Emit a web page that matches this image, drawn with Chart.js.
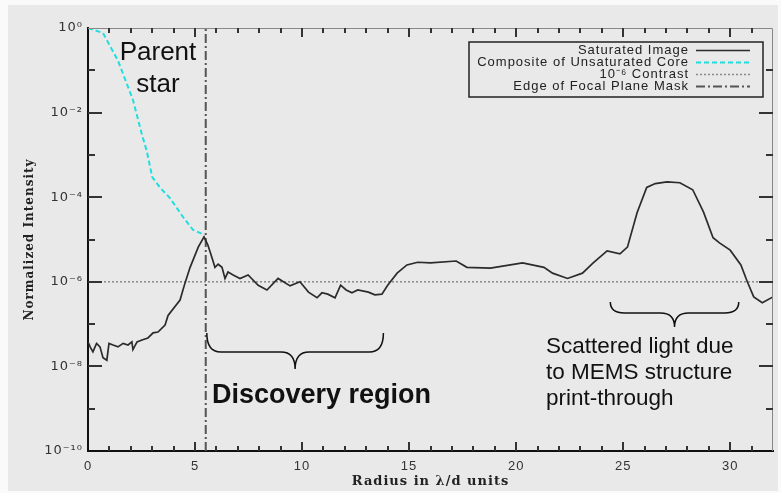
<!DOCTYPE html>
<html>
<head>
<meta charset="utf-8">
<script src="https://cdn.jsdelivr.net/npm/chart.js@4/dist/chart.umd.min.js"></script>
<style>
  html, body { margin: 0; padding: 0; background: #fafafa; }
  #wrap { width: 781px; height: 493px; }
</style>
</head>
<body>
<div id="wrap"><canvas id="chart" width="781" height="493"></canvas></div>
<script>
// Saturated image profile (radius in lambda/d, normalized intensity)
const satRadius = [0, 0.1, 0.23, 0.4, 0.56, 0.7, 0.88, 0.98, 1.17, 1.4, 1.64, 1.87, 2.05, 2.1, 2.29, 2.52, 2.8, 3.04, 3.27, 3.6, 3.74,
  4.3, 4.53, 4.77, 5.15, 5.42, 5.6, 5.8, 5.93, 6.08, 6.26, 6.4, 6.54, 6.78, 7.1, 7.48, 7.95, 8.36, 8.88, 9.44, 9.9,
  10.3, 10.7, 10.93, 11.2, 11.54, 11.8, 12.06, 12.33, 12.6, 13.1, 13.4, 13.73, 14.0, 14.44, 14.9, 15.4, 16.0, 17.2,
  17.7, 18.8, 20.3, 21.3, 21.7, 22.4, 23.1, 23.6, 24.25, 24.85, 25.2, 25.65, 26.1, 26.5, 27.05, 27.65, 28.25, 28.75,
  29.2, 29.5, 30.0, 30.5, 30.8, 31.1, 31.5, 32.0];
const satIntensity = [3.8e-8, 2.9e-8, 2.2e-8, 3.5e-8, 2.9e-8, 1.6e-8, 1.4e-8, 3.5e-8, 3.2e-8, 2.9e-8, 3.5e-8, 3.2e-8, 3.8e-8, 2.5e-8,
  3.8e-8, 4.2e-8, 4.7e-8, 6.2e-8, 6.5e-8, 9.5e-8, 1.6e-7,
  3.7e-7, 9.3e-7, 2.2e-6, 6.6e-6, 1.15e-5, 7.4e-6, 3.6e-6, 2.2e-6, 2.6e-6, 2.2e-6, 1.2e-6, 1.7e-6, 1.45e-6, 1.2e-6, 1.45e-6,
  8.3e-7, 6.4e-7, 1.2e-6, 8.0e-7, 1.0e-6,
  5.7e-7, 4.2e-7, 5.5e-7, 5.1e-7, 4.2e-7, 8.3e-7, 6.4e-7, 5.5e-7, 6.4e-7, 5.7e-7, 4.9e-7, 5.1e-7, 8.3e-7, 1.6e-6, 2.5e-6,
  2.9e-6, 2.8e-6, 3.1e-6,
  2.2e-6, 2.1e-6, 2.8e-6, 2.2e-6, 1.6e-6, 1.2e-6, 1.6e-6, 2.8e-6, 5.4e-6, 4.6e-6, 6.6e-6, 4.3e-5, 1.7e-4, 2.1e-4, 2.3e-4,
  2.2e-4, 1.5e-4, 4.5e-5,
  1.1e-5, 8.3e-6, 5.6e-6, 2.5e-6, 1.0e-6, 4.4e-7, 3.2e-7, 4.4e-7];

// Composite of unsaturated core
const coreRadius = [0, 0.7, 1.4, 2.1, 2.5, 2.75, 3.0, 3.36, 3.83, 4.44, 4.9, 5.42];
const coreIntensity = [1, 0.76, 0.17, 0.02, 3.3e-3, 1.2e-3, 3.0e-4, 1.7e-4, 9.5e-5, 3.4e-5, 1.7e-5, 1.3e-5];

const contrastLevel = 1e-6;
const maskEdge = 5.5;
const xRange = [0, 32];
const yRange = [1e-10, 1];
const xTicks = [0, 5, 10, 15, 20, 25, 30];
const yExponents = [-10, -8, -6, -4, -2, 0];

const sup = { '-': '\u207B', '0': '\u2070', '1': '\u00B9', '2': '\u00B2', '4': '\u2074', '6': '\u2076', '8': '\u2078' };
function powLabel(e) {
  return '10' + String(e).split('').map(c => sup[c]).join('');
}

function toPoints(xs, ys) {
  return xs.map((x, i) => ({ x: x, y: ys[i] }));
}

// fond gris + espacement des lettres pour les axes
const background = {
  id: 'background',
  beforeDraw(chart) {
    const ctx = chart.ctx;
    ctx.save();
    ctx.fillStyle = '#e9e9e9';
    ctx.fillRect(8, 5, 770, 486);
    ctx.restore();
    ctx.letterSpacing = '1px';
  },
  afterDraw(chart) {
    chart.ctx.letterSpacing = '0px';
  }
};

// graduations vers l'intérieur, comme IDL
const tickMarks = {
  id: 'tickMarks',
  afterDatasetsDraw(chart) {
    const { ctx, chartArea: a, scales: { x, y } } = chart;
    ctx.save();
    ctx.strokeStyle = '#888';
    ctx.lineWidth = 1;
    ctx.beginPath();
    ctx.moveTo(a.left, a.top + 0.5);
    ctx.lineTo(a.right - 0.5, a.top + 0.5);
    ctx.lineTo(a.right - 0.5, a.bottom);
    ctx.stroke();

    ctx.strokeStyle = '#333';
    ctx.lineWidth = 2;
    for (let v = 1; v < 32; v++) {
      const px = Math.round(x.getPixelForValue(v));
      const len = v % 5 === 0 ? 9 : 5;
      ctx.beginPath();
      ctx.moveTo(px, a.bottom); ctx.lineTo(px, a.bottom - len);
      ctx.moveTo(px, a.top); ctx.lineTo(px, a.top + len);
      ctx.stroke();
    }
    for (let e = -9; e <= -1; e++) {
      const py = Math.round(y.getPixelForValue(Math.pow(10, e)));
      const len = e % 2 === 0 ? 14 : 7;
      ctx.beginPath();
      ctx.moveTo(a.left, py); ctx.lineTo(a.left + len, py);
      ctx.moveTo(a.right, py); ctx.lineTo(a.right - len, py);
      ctx.stroke();
    }
    ctx.restore();
  }
};

// légende à droite, texte aligné à droite + échantillon
const boxLegend = {
  id: 'boxLegend',
  afterDraw(chart) {
    const ctx = chart.ctx;
    ctx.save();
    ctx.letterSpacing = '1px';
    ctx.strokeStyle = '#222';
    ctx.lineWidth = 1.5;
    ctx.strokeRect(469, 42, 294, 55);
    ctx.font = '13px "Liberation Sans", Arial, sans-serif';
    ctx.fillStyle = '#222';
    ctx.textAlign = 'right';
    ctx.textBaseline = 'middle';
    chart.data.datasets.forEach((ds, i) => {
      const yy = 50 + i * 12;
      ctx.fillText(ds.label, 689, yy);
      ctx.strokeStyle = ds.borderColor;
      ctx.lineWidth = ds.borderWidth;
      ctx.setLineDash(ds.borderDash || []);
      ctx.beginPath();
      ctx.moveTo(696, yy + 0.5);
      ctx.lineTo(750, yy + 0.5);
      ctx.stroke();
      ctx.setLineDash([]);
    });
    ctx.restore();
  }
};

// accolades et textes
function brace(ctx, x1, x2, top, mid, tip) {
  const xc = (x1 + x2) / 2, r = 14;
  ctx.beginPath();
  ctx.moveTo(x1, top);
  ctx.quadraticCurveTo(x1, mid, x1 + r, mid);
  ctx.lineTo(xc - r, mid);
  ctx.quadraticCurveTo(xc, mid, xc, tip);
  ctx.quadraticCurveTo(xc, mid, xc + r, mid);
  ctx.lineTo(x2 - r, mid);
  ctx.quadraticCurveTo(x2, mid, x2, top);
  ctx.stroke();
}

const notes = {
  id: 'notes',
  afterDraw(chart) {
    const { ctx, scales: { x } } = chart;
    ctx.save();
    ctx.letterSpacing = '0px';
    ctx.strokeStyle = '#111';
    ctx.lineWidth = 1.5;
    brace(ctx, x.getPixelForValue(5.55), x.getPixelForValue(13.8), 333, 352, 369);
    brace(ctx, x.getPixelForValue(24.4), x.getPixelForValue(30.4), 302, 313, 327);

    ctx.fillStyle = '#111';
    ctx.textBaseline = 'alphabetic';
    ctx.textAlign = 'center';
    ctx.font = '26px "Liberation Sans", Arial, sans-serif';
    ctx.fillText('Parent', 158, 60);
    ctx.fillText('star', 158, 92);

    ctx.textAlign = 'left';
    ctx.font = 'bold 27px "Liberation Sans", Arial, sans-serif';
    ctx.fillText('Discovery region', 212, 403);

    ctx.font = '22.5px "Liberation Sans", Arial, sans-serif';
    ctx.fillText('Scattered light due', 546, 353);
    ctx.fillText('to MEMS structure', 546, 379);
    ctx.fillText('print-through', 546, 405);
    ctx.restore();
  }
};

const ctx = document.getElementById('chart').getContext('2d');
new Chart(ctx, {
  type: 'scatter',
  data: {
    datasets: [
      {
        label: 'Saturated Image',
        data: toPoints(satRadius, satIntensity),
        showLine: true, pointRadius: 0,
        borderColor: '#2b2b2b', borderWidth: 1.7
      },
      {
        label: 'Composite of Unsaturated Core',
        data: toPoints(coreRadius, coreIntensity),
        showLine: true, pointRadius: 0,
        borderColor: '#1fdede', borderWidth: 2, borderDash: [5, 3]
      },
      {
        label: '10\u207B\u2076 Contrast',
        data: toPoints(xRange, [contrastLevel, contrastLevel]),
        showLine: true, pointRadius: 0,
        borderColor: '#8a8a8a', borderWidth: 1.5, borderDash: [2, 2]
      },
      {
        label: 'Edge of Focal Plane Mask',
        data: toPoints([maskEdge, maskEdge], yRange),
        showLine: true, pointRadius: 0,
        borderColor: '#555', borderWidth: 2, borderDash: [9, 3, 2, 3]
      }
    ]
  },
  options: {
    responsive: false,
    animation: false,
    layout: { padding: { left: 0, top: 28, right: 8, bottom: 0 } },
    plugins: { legend: { display: false }, tooltip: { enabled: false } },
    scales: {
      x: {
        type: 'linear',
        min: xRange[0], max: xRange[1],
        afterFit: s => { s.height = 42; },
        afterBuildTicks: s => { s.ticks = xTicks.map(v => ({ value: v })); },
        grid: { display: false, drawTicks: false },
        border: { display: true, color: '#111', width: 2 },
        ticks: { padding: 8, color: '#333', font: { family: '"Liberation Sans", Arial, sans-serif', size: 13 } },
        title: {
          display: true, text: 'Radius in \u03BB/d units', color: '#222',
          font: { family: '"DejaVu Serif", serif', size: 13, weight: 'bold' },
          padding: { top: 0, bottom: 4 }
        }
      },
      y: {
        type: 'logarithmic',
        min: yRange[0], max: yRange[1],
        afterFit: s => { s.width = 88; },
        afterBuildTicks: s => { s.ticks = yExponents.map(e => ({ value: Math.pow(10, e) })); },
        grid: { display: false, drawTicks: false },
        border: { display: true, color: '#111', width: 2 },
        ticks: {
          padding: 5, color: '#333',
          font: { family: '"DejaVu Sans", sans-serif', size: 13 },
          callback: v => powLabel(Math.round(Math.log10(v)))
        },
        title: {
          display: true, text: 'Normalized Intensity', color: '#222',
          font: { family: '"DejaVu Serif", serif', size: 12, weight: 'bold' },
          padding: { top: 23, bottom: 0 }
        }
      }
    }
  },
  plugins: [background, tickMarks, boxLegend, notes]
});
</script>
</body>
</html>
